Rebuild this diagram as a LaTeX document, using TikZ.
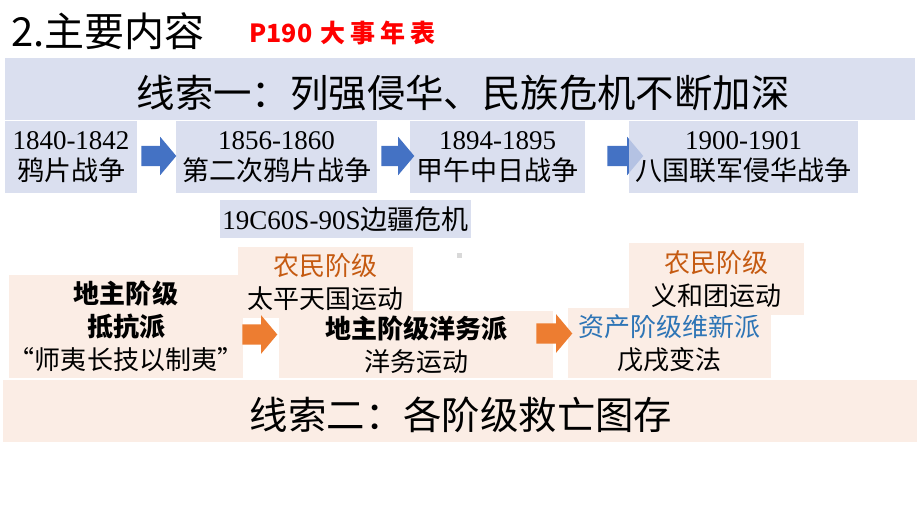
\documentclass[tikz,border=0pt]{standalone}
\usepackage{fontspec}
\usepackage{xcolor}
\usepackage{tikz}
\usetikzlibrary{shapes,positioning}
\setmainfont{Liberation Serif}
\newfontfamily\cjk{Noto Sans CJK SC}
\definecolor{bandblue}{RGB}{218,223,239}
\definecolor{bandblueover}{RGB}{209,215,235}
\definecolor{bandpeach}{RGB}{251,237,229}
\definecolor{arrowblue}{RGB}{68,114,196}
\definecolor{arroworange}{RGB}{237,125,49}
\definecolor{peasant}{RGB}{197,90,17}
\definecolor{reform}{RGB}{46,117,182}

\begin{document}
\begin{tikzpicture}[x=1pt,y=-1pt,
    bluebox/.style={fill=bandblue, inner sep=0pt, align=center, font=\cjk\fontsize{27}{31}\selectfont},
    peachbox/.style={fill=bandpeach, inner sep=0pt, align=center, font=\cjk\fontsize{26}{33}\selectfont},
    blockarrow/.style={shape=single arrow, fill=#1, inner xsep=0pt, inner ysep=10pt,
        single arrow head extend=9pt, single arrow tip angle=100, minimum height=35pt},
    titletext/.style={font=\cjk\fontsize{38.4}{40}\selectfont}]
\useasboundingbox (0,0) rectangle (920,518);

% heading
\node[anchor=west, font=\cjk\fontsize{40}{40}\selectfont] (head) at (8,31) {2.主要内容};
\node[anchor=west, text=red, font=\cjk\fontsize{25}{25}\selectfont] (page) at (246,33)
    {\bfseries P190\hspace{8pt}大\hspace{5pt}事\hspace{5pt}年\hspace{5pt}表};

% clue one
\node[fill=bandblue, minimum width=910pt, minimum height=62pt, inner sep=0pt] (clue1) at (460,89) {};
\node[titletext] (clue1t) at (463,93) {线索一：列强侵华、民族危机不断加深};

\node[bluebox, minimum width=132pt, minimum height=72pt] (opium) at (71,157)
    {{\rmfamily 1840-1842}\\鸦片战争};
\node[bluebox, minimum width=201pt, minimum height=72pt] (opium2) at (276.5,157)
    {{\rmfamily 1856-1860}\\第二次鸦片战争};
\node[bluebox, minimum width=175pt, minimum height=72pt] (jiawu) at (497.5,157)
    {{\rmfamily 1894-1895}\\甲午中日战争};
\node[blockarrow=arrowblue] (a1) at (154.5,156) {};
\node[blockarrow=arrowblue, minimum height=33pt] (a2) at (393.5,156) {};
\node[blockarrow=arrowblue, minimum height=36pt] (a3) at (621,156) {};
\node[bluebox, fill=bandblueover, fill opacity=0.8, text opacity=1, minimum width=229pt, minimum height=72pt] (eight) at (743.5,157)
    {{\rmfamily 1900-1901}\\八国联军侵华战争};
\node[bluebox, minimum width=251pt, minimum height=38pt] (border) at (345.5,219)
    {{\rmfamily 19C60S-90S}边疆危机};

% clue two
\fill[black!15] (457,253) rectangle (462,258);
\node[peachbox, minimum width=224pt, minimum height=103pt] (resist) at (126,326.5)
    {\bfseries 地主阶级\\\bfseries 抵抗派\\“师夷长技以制夷”};
\node[peachbox, minimum width=175pt, minimum height=71pt] (taiping) at (325.5,282.5)
    {\textcolor{peasant}{农民阶级}\\太平天国运动};
\node[peachbox, minimum width=274pt, minimum height=67pt] (westn) at (416,344.5)
    {\bfseries 地主阶级洋务派\\洋务运动};
\node[peachbox, minimum width=203pt, minimum height=70pt] (reformer) at (669.5,343)
    {\textcolor{reform}{资产阶级维新派}\\戊戌变法};
\node[peachbox, minimum width=175pt, minimum height=72pt] (boxer) at (716.5,279)
    {\textcolor{peasant}{农民阶级}\\义和团运动};
\node[blockarrow=arroworange] (o1) at (255.5,334.5) {};
\node[blockarrow=arroworange, minimum height=36pt] (o2) at (550,333.5) {};

\node[fill=bandpeach, minimum width=914pt, minimum height=62pt, inner sep=0pt] (clue2) at (460,411) {};
\node[titletext] (clue2t) at (461,415) {线索二：各阶级救亡图存};
\end{tikzpicture}
\end{document}
